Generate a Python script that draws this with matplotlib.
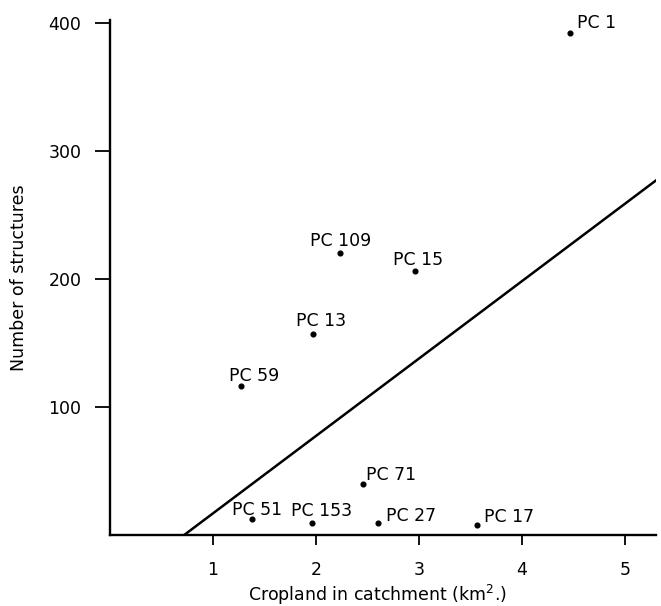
import matplotlib
matplotlib.use("Agg")
import matplotlib.pyplot as plt

# Data
sites = ["PC 1", "PC 109", "PC 15", "PC 13", "PC 59", "PC 71", "PC 51", "PC 153", "PC 27", "PC 17"]
cropland = [4.47, 2.23, 2.96, 1.97, 1.27, 2.46, 1.38, 1.96, 2.60, 3.56]
structures = [392, 220, 206, 157, 116, 40, 12.5, 9.5, 9, 7.5]

# Reference line
line_x = [0.72, 5.32]
line_y = [0, 278]

x_ticks = [1, 2, 3, 4, 5]
y_ticks = [100, 200, 300, 400]

# label placement (pixel offsets from the point, horizontal alignment)
label_offsets = {
    "PC 1": (7, 5, "left"),
    "PC 109": (1, 7, "center"),
    "PC 15": (3, 6, "center"),
    "PC 13": (8, 8, "center"),
    "PC 59": (13, 5, "center"),
    "PC 71": (3, 4, "left"),
    "PC 51": (5, 3.5, "center"),
    "PC 153": (10, 7, "center"),
    "PC 27": (8, 2, "left"),
    "PC 17": (7, 3.5, "left"),
}

W, H = 661, 606
fig = plt.figure(figsize=(W / 100, H / 100), dpi=100)
ax = fig.add_axes([110 / W, 71 / H, 546 / W, 515 / H])

ax.plot(line_x, line_y, color="black", lw=1.8, solid_capstyle="butt")
ax.plot(cropland, structures, "o", color="black", markersize=3.4)

px = 0.72
for name, x, y in zip(sites, cropland, structures):
    dx, dy, ha = label_offsets[name]
    ax.annotate(name, (x, y), xytext=(dx * px, dy * px), textcoords="offset points",
                ha=ha, va="baseline", fontsize=12.5, color="black")

ax.set_xlim(0, 5.3)
ax.set_ylim(0, 402)
ax.set_xticks(x_ticks)
ax.set_xticklabels([str(t) for t in x_ticks])
ax.set_yticks(y_ticks)
ax.set_yticklabels([str(t) for t in y_ticks])

for s in ["top", "right"]:
    ax.spines[s].set_visible(False)
for s in ["left", "bottom"]:
    ax.spines[s].set_linewidth(1.7)

ax.tick_params(axis="x", direction="out", length=7.5, width=1.3, pad=11, labelsize=12.5)
ax.tick_params(axis="y", direction="out", length=10.5, width=1.3, pad=10, labelsize=12.5)

ax.set_xlabel("Cropland in catchment (km$^{2}$.)", fontsize=12.5)
ax.set_ylabel("Number of structures", fontsize=12.5)
ax.xaxis.set_label_coords(0.49, -0.093)
ax.yaxis.set_label_coords(-0.15, 0.5)

fig.savefig("out.png", dpi=100)
